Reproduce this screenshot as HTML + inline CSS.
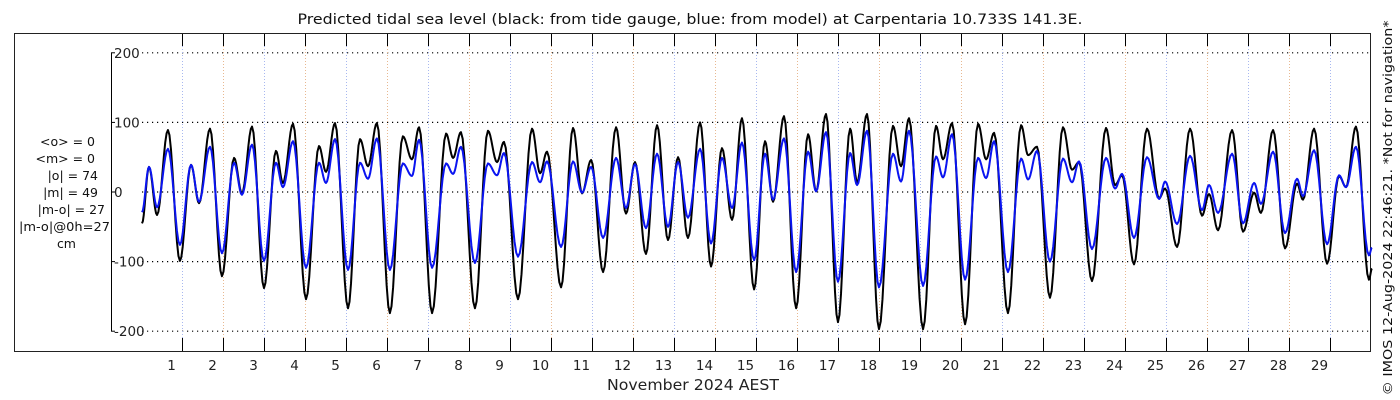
<!DOCTYPE html>
<html><head><meta charset="utf-8"><style>
html,body{margin:0;padding:0;background:#fff;}
svg{display:block;font-family:"DejaVu Sans","Liberation Sans",sans-serif;}
</style></head><body>
<svg id="chart" width="1400" height="400" viewBox="0 0 1400 400" xmlns="http://www.w3.org/2000/svg">
<rect x="0" y="0" width="1400" height="400" fill="#fff"/>
<text x="690" y="24" text-anchor="middle" font-size="14" textLength="785" lengthAdjust="spacingAndGlyphs" fill="#111">Predicted tidal sea level (black: from tide gauge, blue: from model) at Carpentaria 10.733S 141.3E.</text>
<rect x="14.5" y="33.5" width="1356" height="318" fill="none" stroke="#222" stroke-width="1"/>
<g id="grid"></g>
<g id="axes"></g>
<g id="series"></g>
<g font-size="12.5" fill="#111" text-anchor="end">
<text x="95" y="146">&lt;o&gt; = 0</text>
<text x="95" y="163">&lt;m&gt; = 0</text>
<text x="98" y="180">|o| = 74</text>
<text x="98" y="197">|m| = 49</text>
<text x="105" y="214">|m-o| = 27</text>
<text x="110" y="231" textLength="91" lengthAdjust="spacingAndGlyphs">|m-o|@0h=27</text>
<text x="76" y="248">cm</text>
</g>
<text x="693" y="390" text-anchor="middle" font-size="15" textLength="172" lengthAdjust="spacingAndGlyphs" fill="#222">November 2024 AEST</text>
<text transform="translate(1392,208) rotate(-90)" text-anchor="middle" font-size="12" textLength="375" lengthAdjust="spacingAndGlyphs" fill="#111">© IMOS 12-Aug-2024 22:46:21. *Not for navigation*</text>
</svg>
<script>
const hours = [0,4.1,8.8,15.2,22.2,28.7,33.4,39.8,46.8,53.9,58.5,64.4,71.4,78.4,82.5,88.4,96.0,103.6,107.7,113.0,
120.6,127.6,132.3,137.5,145.1,152.7,158.0,162.2,169.8,178.0,182.1,186.7,194.9,202.5,207.8,211.9,220.1,228.3,233.0,237.1,
245.3,252.3,257.6,262.9,269.9,277.5,283.3,288.6,295.0,301.5,307.9,313.8,319.6,326.7,333.1,339.5,345.4,351.2,
358.3,364.7,369.4,375.8,382.9,389.9,394.6,400.4,407.4,414.5,418.6,424.4,431.4,439.6,444.3,449.0,457.2,464.8,468.9,474.2,
481.8,489.4,494.1,498.8,506.9,514.6,518.7,523.9,531.5,539.1,544.4,548.5,556.1,564.3,569.6,573.7,580.7,588.3,595.4,
598.9,605.9,613.5,620.5,624.6,629.9,638.1,644.5,651.0,655.0,662.1,669.1,676.1,679.6,686.1,693.7,700.7,704.8,710.6,718.2,720.0];
const gaugeLevels = [-45,36,-33,89,-99,39,-16,91,-121,49,-2,94,-138,59,13,98,-154,66,29,99,
-167,76,37,99,-174,80,47,93,-174,84,49,86,-167,88,43,72,-154,91,27,58,
-137,92,-2,46,-115,93,-31,43,-89,96,-69,50,-66,100,-107,63,-40,106,
-140,73,-14,109,-167,83,1,112,-187,91,14,112,-197,95,37,106,-197,95,47,99,
-190,98,47,85,-174,96,53,65,-152,93,32,43,-128,92,10,24,-104,91,-9,
5,-79,91,-34,-3,-55,89,-57,-1,-30,89,-81,12,-11,91,-103,23,7,94,-126,-110];
const modelLevels = [-29,36,-22,62,-76,39,-14,65,-88,42,-4,68,-99,42,7,73,-109,42,13,76,
-112,42,19,77,-112,41,23,75,-109,41,26,65,-102,41,24,56,-93,43,14,44,
-79,44,-1,36,-66,49,-23,40,-52,55,-50,43,-37,62,-74,49,-23,71,
-98,55,-11,77,-115,58,1,86,-129,56,10,88,-137,55,15,88,-135,51,21,83,
-126,49,20,73,-115,48,18,59,-100,48,14,44,-82,49,5,26,-66,50,-10,
15,-46,52,-26,10,-30,55,-45,13,-17,58,-59,19,-6,60,-75,24,7,65,-91,-80];
const dayLabels = ["1","2","3","4","5","6","7","8","9","10","11","12","13","14","15","16","17","18","19","20","21","22","23","24","25","26","27","28","29"];
const yTicks = [200,100,0,-100,-200];

const NS = "http://www.w3.org/2000/svg";
const X0 = 142, PXH = 41/24;
function xScale(h){ return X0 + h*PXH; }
function yScale(v){ return 192 - v*0.696; }
function mk(tag, attrs, parent){ const e=document.createElementNS(NS,tag); for(const k in attrs) e.setAttribute(k,attrs[k]); parent.appendChild(e); return e; }
const grid=document.getElementById('grid'), axes=document.getElementById('axes'), series=document.getElementById('series');

yTicks.forEach(v=>{
  const y=yScale(v);
  const l=mk('line',{x1:142,x2:1370,y1:y,y2:y,stroke:'#000','stroke-width':1.2,'stroke-dasharray':'1.2 3.8'},grid);
  
  
  const t=mk('line',{x1:111,x2:115,y1:y,y2:y,stroke:'#000'},axes);
  
  
  const tx=mk('text',{x:(v<0?114:(v===0?114:114)),y:y+5,'font-size':13.5,fill:'#222'},axes);
  tx.textContent=String(v);
  
  
});
const ya=mk('line',{x1:111.5,x2:111.5,y1:yScale(200),y2:yScale(-200),stroke:'#000'},axes);



dayLabels.forEach((d,i)=>{
  const x=141.5+41*(i+1);
  const g=mk('line',{x1:x,x2:x,y1:34,y2:351,stroke:(i%2?'#e8b890':'#a8b8f0'),'stroke-width':1,'stroke-dasharray':'1 2'},grid);
  
  
  const t1=mk('line',{x1:x,x2:x,y1:34,y2:46,stroke:'#000'},axes);
  
  
  const t2=mk('line',{x1:x,x2:x,y1:338,y2:351,stroke:'#000'},axes);
  
  
  const tx=mk('text',{x:x-11,y:370,'text-anchor':'middle','font-size':13.5,fill:'#222'},axes);
  tx.textContent=d;
  
  
});

function pathFor(vals){
  let d='M'+xScale(hours[0]).toFixed(2)+','+yScale(vals[0]).toFixed(2);
  for(let i=0;i<hours.length-1;i++){
    const h0=hours[i],h1=hours[i+1],v0=vals[i],v1=vals[i+1];
    const n=8;
    for(let k=1;k<=n;k++){
      const f=k/n, s=(1-Math.cos(Math.PI*f))/2;
      d+=' L'+xScale(h0+(h1-h0)*f).toFixed(2)+','+yScale(v0+(v1-v0)*s).toFixed(2);
    }
  }
  return d;
}
const pb=mk('path',{d:pathFor(gaugeLevels),fill:'none',stroke:'#000','stroke-width':2,'stroke-linejoin':'round'},series);


const pm=mk('path',{d:pathFor(modelLevels),fill:'none',stroke:'#0a14f0','stroke-width':2,'stroke-linejoin':'round'},series);


</script>
</body></html>
